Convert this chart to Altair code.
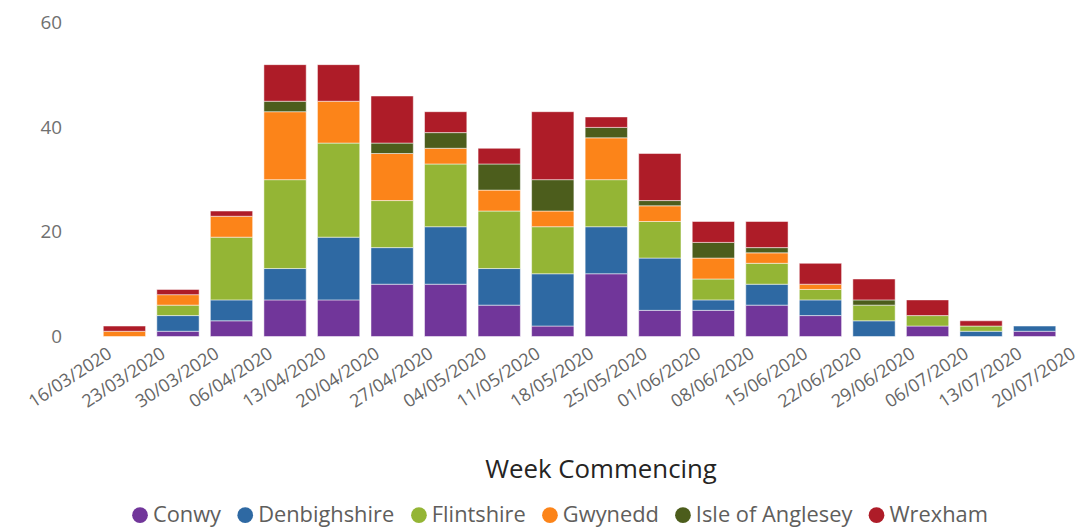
import altair as alt
import pandas as pd

weeks = ["16/03/2020", "23/03/2020", "30/03/2020", "06/04/2020", "13/04/2020",
         "20/04/2020", "27/04/2020", "04/05/2020", "11/05/2020", "18/05/2020",
         "25/05/2020", "01/06/2020", "08/06/2020", "15/06/2020", "22/06/2020",
         "29/06/2020", "06/07/2020", "13/07/2020", "20/07/2020"]

counties = ["Conwy", "Denbighshire", "Flintshire", "Gwynedd", "Isle of Anglesey", "Wrexham"]
colors = ["#71369A", "#2E69A3", "#94B535", "#FC8419", "#4C5D1C", "#AE1C28"]

# values per week (16/03 .. 13/07); 20/07 has no data
conwy        = [0, 1, 3, 7, 7, 10, 10, 6, 2, 12, 5, 5, 6, 4, 0, 2, 0, 1]
denbighshire = [0, 3, 4, 6, 12, 7, 11, 7, 10, 9, 10, 2, 4, 3, 3, 0, 1, 1]
flintshire   = [0, 2, 12, 17, 18, 9, 12, 11, 9, 9, 7, 4, 4, 2, 3, 2, 1, 0]
gwynedd      = [1, 2, 4, 13, 8, 9, 3, 4, 3, 8, 3, 4, 2, 1, 0, 0, 0, 0]
anglesey     = [0, 0, 0, 2, 0, 2, 3, 5, 6, 2, 1, 3, 1, 0, 1, 0, 0, 0]
wrexham      = [1, 1, 1, 7, 7, 9, 4, 3, 13, 2, 9, 4, 5, 4, 4, 3, 1, 0]

series = [conwy, denbighshire, flintshire, gwynedd, anglesey, wrexham]

rows = []
for ci, (name, vals) in enumerate(zip(counties, series)):
    for wi, v in enumerate(vals):
        if v > 0:
            rows.append({"week": weeks[wi], "county": name, "cases": v, "ord": ci})
df = pd.DataFrame(rows)

FONT = "Open Sans"
step = 53.94
p_inner = 0.21
p_outer = 0.556
x_range_end = step * (len(weeks) - p_inner + 2 * p_outer)

chart = alt.Chart(df).mark_bar(stroke="white", strokeWidth=0.5).encode(
    x=alt.X("week:N", sort=weeks,
            scale=alt.Scale(domain=weeks, range=[0, x_range_end],
                            paddingInner=p_inner, paddingOuter=p_outer),
            axis=alt.Axis(title="Week Commencing", labelAngle=-33, labelFontSize=18,
                          labelColor="#666666", labelOffset=-19, labelPadding=8,
                          domain=False, ticks=False, grid=False,
                          titleFontSize=26, titleFontWeight="normal", titleColor="#252423",
                          titleX=531, titleY=134, titleBaseline="middle", titleAlign="center")),
    y=alt.Y("cases:Q", stack="zero",
            scale=alt.Scale(domain=[0, 60], nice=False),
            axis=alt.Axis(title=None, values=[0, 20, 40, 60], labelFontSize=19,
                          labelColor="#707070", labelPadding=12, domain=False,
                          ticks=False, grid=False)),
    color=alt.Color("county:N", scale=alt.Scale(domain=counties, range=colors),
                    legend=alt.Legend(title=None, orient="none", legendX=56, legendY=485,
                                      direction="horizontal", symbolType="circle",
                                      symbolSize=250, symbolStrokeWidth=0, labelFontSize=22,
                                      labelColor="#605E5C", labelOffset=2, columnPadding=13)),
    order=alt.Order("ord:Q", sort="ascending"),
).properties(
    width=1005, height=316,
    autosize=alt.AutoSizeParams(type="none"),
    padding={"left": 66, "top": 13, "right": 10, "bottom": 192},
).configure(font=FONT).configure_view(strokeWidth=0, stroke=None)

chart.save("out.html", embed_options={"renderer": "svg", "actions": False})
